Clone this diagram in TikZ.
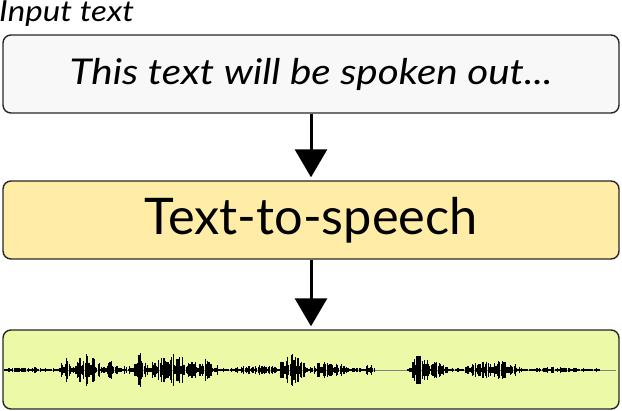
\documentclass[tikz,border=0pt]{standalone}
\usepackage{fontspec}
\setmainfont{Lato}
\newfontfamily\wideit{Lato}[FakeStretch=1.14]
\usetikzlibrary{arrows.meta}
\definecolor{inbox}{RGB}{248,248,248}
\definecolor{ttsbox}{RGB}{255,236,166}
\definecolor{wavebox}{RGB}{236,250,168}
\begin{document}
\begin{tikzpicture}[x=1pt,y=-1pt,
  box/.style={draw=black!85, line width=1.4pt, rounded corners=8pt, minimum width=616pt, minimum height=78pt, inner sep=0pt},
  flow/.style={line width=3pt, -{Triangle[width=32pt,length=28pt]}, shorten >=3pt},
  wave/.style={line width=1.2pt, black}]
\useasboundingbox (0,0) rectangle (622,411);
\node[anchor=base west, inner sep=0pt, font=\wideit\itshape\fontsize{29}{32}\selectfont] (lbl) at (-1,22) {Input text};
\node[box, fill=inbox, font=\wideit\itshape\fontsize{35.5}{40}\selectfont] (inp) at (311,74) {This text will be spoken out...};
\node[box, fill=ttsbox, font=\fontsize{50.5}{56}\selectfont] (tts) at (311,220) {Text-to-speech};
\node[box, fill=wavebox, minimum height=79pt] (out) at (311,369.5) {};
\draw[flow] (inp) -- (tts);
\draw[flow] (tts) -- (out);
\draw[gray, line width=0.8pt] (5,370) -- (616,370);
\pgfmathsetseed{42}
\foreach \s/\e/\a in {5/60/3, 60/72/15, 72/76/5, 76/100/16, 100/106/4, 106/119/9, 119/135/5, 135/146/17, 146/151/8, 151/196/16, 196/212/12, 212/221/5, 221/236/2, 236/281/5, 281/305/16, 305/350/8, 350/365/3, 365/375/6, 408/413/5, 413/429/18, 429/446/9, 446/456/5, 456/466/3, 466/520/10, 520/600/3}{
  \pgfmathtruncatemacro\n{(\e-\s)/1.3}
  \foreach \i in {0,...,\n}{
    \pgfmathsetmacro\x{\s+\i*1.3}
    \pgfmathsetmacro\h{max(0.7,\a*(0.2+0.8*rnd)*(0.5+0.5*sin(180*\i/(\n+0.001))))}
    \draw[wave] (\x,370-\h) -- (\x,370+\h);
  }
}
\end{tikzpicture}
\end{document}
